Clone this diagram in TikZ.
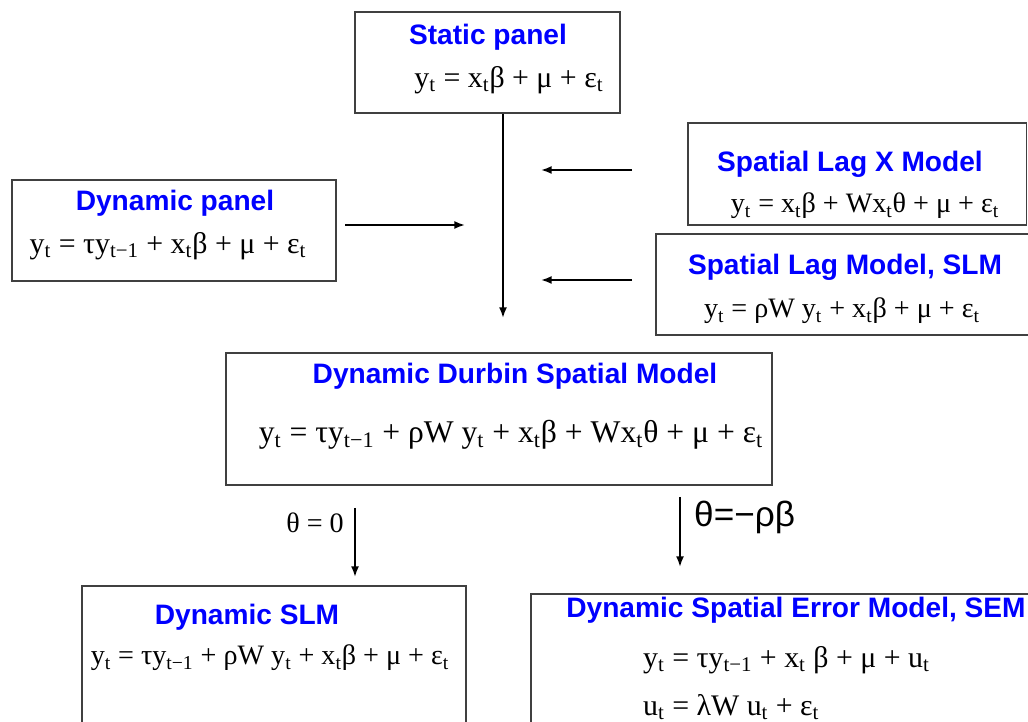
\documentclass[tikz,border=0pt]{standalone}
\usepackage{fontspec}
\setmainfont{Liberation Serif}
\newfontfamily\headfont{Liberation Sans}
\usetikzlibrary{arrows.meta,fit}
\definecolor{headblue}{RGB}{0,0,255}
\newcommand{\lo}[1]{\textsubscript{#1}}
\tikzset{
  modelbox/.style={draw=black!75, line width=0.7pt, inner sep=0pt},
  head/.style={font=\headfont\bfseries\fontsize{16}{19}\selectfont, text=headblue},
  eqn/.style={font=\fontsize{16}{19}\selectfont},
  wideeqn/.style={font=\fontsize{17}{20}\selectfont},
  bigeqn/.style={font=\fontsize{18}{22}\selectfont},
  flow/.style={line width=1.1pt, -{Latex[length=6pt,width=4.5pt]}},
}
\begin{document}
\begin{tikzpicture}[x=0.02cm,y=-0.02cm]
\useasboundingbox (0,0) rectangle (1028,722);
% boxes
\node[modelbox, fit={(355,12) (620,113)}] (static) {};
\node[modelbox, fit={(12,180) (336,281)}] (dyn) {};
\node[modelbox, fit={(688,123) (1026.5,225)}] (slx) {};
\node[modelbox, fit={(656,234) (1040,335)}] (slm) {};
\node[modelbox, fit={(226,353) (772,485)}] (durbin) {};
\node[modelbox, fit={(82,586) (466,740)}] (dslm) {};
\node[modelbox, fit={(531,594) (1040,740)}] (dsem) {};
% titles
\node[head] (static-t) at (488,37) {Static panel};
\node[head] (dyn-t) at (175,203) {Dynamic panel};
\node[head] (slx-t) at (850,164) {Spatial Lag X Model};
\node[head] (slm-t) at (845,267) {Spatial Lag Model, SLM};
\node[head] (durbin-t) at (515,376) {Dynamic Durbin Spatial Model};
\node[head] (dslm-t) at (247,617) {Dynamic SLM};
\node[head] (dsem-t) at (796,610) {Dynamic Spatial Error Model, SEM};
% equations
\node[wideeqn] (static-e) at (509,80) {y\lo{t} = x\lo{t}β + μ + ε\lo{t}};
\node[wideeqn] (dyn-e) at (168,246) {y\lo{t} = τy\lo{t−1} + x\lo{t}β + μ + ε\lo{t}};
\node[eqn] (slx-e) at (865,206) {y\lo{t} = x\lo{t}β + Wx\lo{t}θ + μ + ε\lo{t}};
\node[eqn] (slm-e) at (842,311) {y\lo{t} = ρW y\lo{t} + x\lo{t}β + μ + ε\lo{t}};
\node[bigeqn] (durbin-e) at (511,435) {y\lo{t} = τy\lo{t−1} + ρW y\lo{t} + x\lo{t}β + Wx\lo{t}θ + μ + ε\lo{t}};
\node[eqn] (dslm-e) at (270,658) {y\lo{t} = τy\lo{t−1} + ρW y\lo{t} + x\lo{t}β + μ + ε\lo{t}};
\node[wideeqn, anchor=west] (dsem-e1) at (637,660) {y\lo{t} = τy\lo{t−1} + x\lo{t} β + μ + u\lo{t}};
\node[wideeqn, anchor=west] (dsem-e2) at (637,707) {u\lo{t} = λW u\lo{t} + ε\lo{t}};
% connectors
\coordinate (join) at (503,318);
\coordinate (dyn-a) at (345,225);
\coordinate (dyn-b) at (465,225);
\coordinate (slx-a) at (632,170);
\coordinate (slx-b) at (541,170);
\coordinate (slm-a) at (632,280);
\coordinate (slm-b) at (541,280);
\coordinate (left-a) at (355,508);
\coordinate (left-b) at (355,577);
\coordinate (right-a) at (680,497);
\coordinate (right-b) at (680,567);
\draw[flow] (static.south -| join) -- (join);
\draw[flow] (dyn-a) -- (dyn-b);
\draw[flow] (slx-a) -- (slx-b);
\draw[flow] (slm-a) -- (slm-b);
\draw[flow] (left-a) -- (left-b);
\draw[flow] (right-a) -- (right-b);
\node[eqn, anchor=east] (theta0) at (350,523) {θ = 0};
\node[font=\headfont\fontsize{20}{24}\selectfont, anchor=west] (thetarb) at (688,517) {θ=−ρβ};
\end{tikzpicture}
\end{document}
